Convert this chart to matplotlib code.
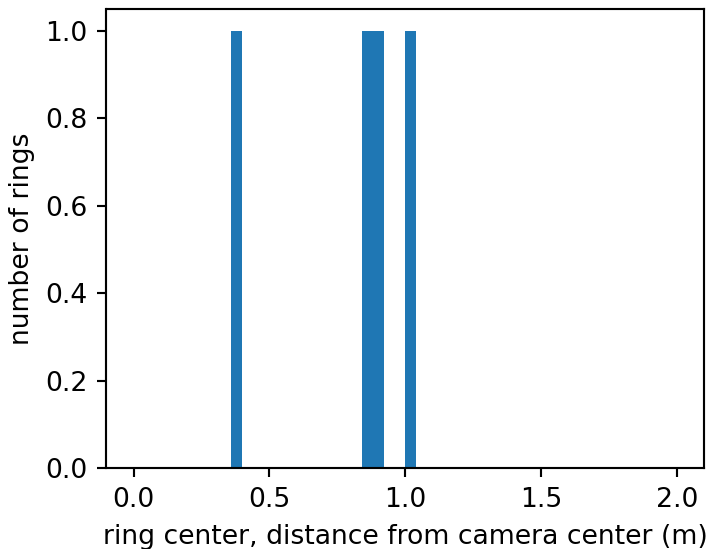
import matplotlib
matplotlib.use("Agg")
import matplotlib.pyplot as plt
import numpy as np

# ring center distances (m)
distances = [0.38, 0.86, 0.90, 1.02]
bin_count = 50
bin_range = (0.0, 2.0)
xticks = [0.0, 0.5, 1.0, 1.5, 2.0]
yticks = [0.0, 0.2, 0.4, 0.6, 0.8, 1.0]

s = 1.92
plt.rcParams['font.size'] = 10 * s
plt.rcParams['axes.linewidth'] = 0.8 * s
plt.rcParams['xtick.major.width'] = 0.8 * s
plt.rcParams['ytick.major.width'] = 0.8 * s
plt.rcParams['xtick.major.size'] = 3.5 * s
plt.rcParams['ytick.major.size'] = 3.5 * s
plt.rcParams['xtick.major.pad'] = 3.5 * s
plt.rcParams['ytick.major.pad'] = 3.5 * s
plt.rcParams['axes.labelpad'] = 4.0 * s

W, H = 708, 549
left, right, top, bottom = 106.5, 704.0, 9.0, 468.3
fig = plt.figure(figsize=(W/100, H/100), dpi=100)
ax = fig.add_axes([left/W, 1 - bottom/H, (right-left)/W, (bottom-top)/H])
ax.hist(distances, bins=bin_count, range=bin_range, color='#1f77b4')
ax.set_xticks(xticks)
ax.set_yticks(yticks)
ax.set_xlabel('ring center, distance from camera center (m)')
ax.set_ylabel('number of rings')
fig.savefig('out.png', dpi=100)
